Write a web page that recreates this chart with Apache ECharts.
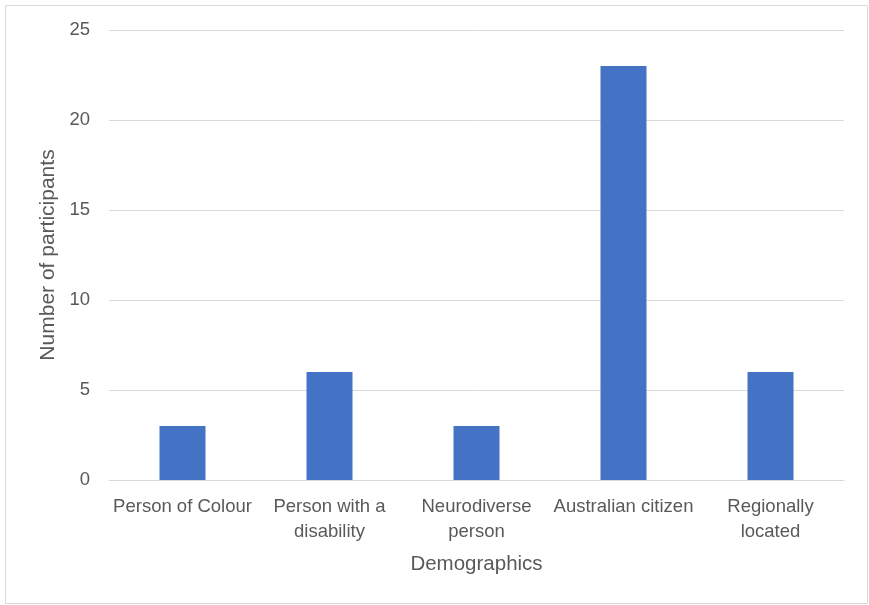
<!DOCTYPE html>
<html>
<head>
<meta charset="utf-8">
<script src="https://cdn.jsdelivr.net/npm/echarts@6/dist/echarts.min.js"></script>
<style>
html, body { margin: 0; padding: 0; background: #ffffff; }
#chart { width: 869px; height: 605px; }
</style>
</head>
<body>
<div id="chart"></div>
<script>
const categories = ["Person of Colour", "Person with a\ndisability", "Neurodiverse\nperson", "Australian citizen", "Regionally\nlocated"];
const participants = [3, 6, 3, 23, 6];
const xAxisTitle = "Demographics";
const yAxisTitle = "Number of participants";

const chart = echarts.init(document.getElementById('chart'), null, { renderer: 'canvas' });
const textColor = '#595959';
const fontFamily = '"Liberation Sans", Arial, sans-serif';

chart.setOption({
  animation: false,
  backgroundColor: '#ffffff',
  graphic: [{
    type: 'rect',
    shape: { x: 5.5, y: 5.5, width: 862, height: 598 },
    style: { fill: 'none', stroke: '#d9d9d9', lineWidth: 1 },
    silent: true
  }],
  grid: { left: 109, right: 25, top: 30, bottom: 125, containLabel: false },
  xAxis: {
    type: 'category',
    data: categories,
    name: xAxisTitle,
    nameLocation: 'middle',
    nameGap: 74,
    nameTextStyle: { color: textColor, fontSize: 20.5, fontFamily: fontFamily },
    axisLine: { show: true, lineStyle: { color: '#d9d9d9', width: 1 } },
    axisTick: { show: false },
    axisLabel: {
      interval: 0,
      color: textColor,
      fontSize: 18.5,
      fontFamily: fontFamily,
      lineHeight: 25,
      margin: 14
    }
  },
  yAxis: {
    type: 'value',
    min: 0,
    max: 25,
    interval: 5,
    name: yAxisTitle,
    nameLocation: 'middle',
    nameGap: 48,
    nameRotate: 90,
    nameTextStyle: { color: textColor, fontSize: 21, fontFamily: fontFamily },
    axisLine: { show: false },
    axisTick: { show: false },
    splitLine: { show: true, lineStyle: { color: '#d9d9d9', width: 1 } },
    axisLabel: { color: textColor, fontSize: 18.5, fontFamily: fontFamily, margin: 19 }
  },
  series: [{
    type: 'bar',
    data: participants,
    barWidth: 46,
    itemStyle: { color: '#4472c4' }
  }]
});
</script>
</body>
</html>
